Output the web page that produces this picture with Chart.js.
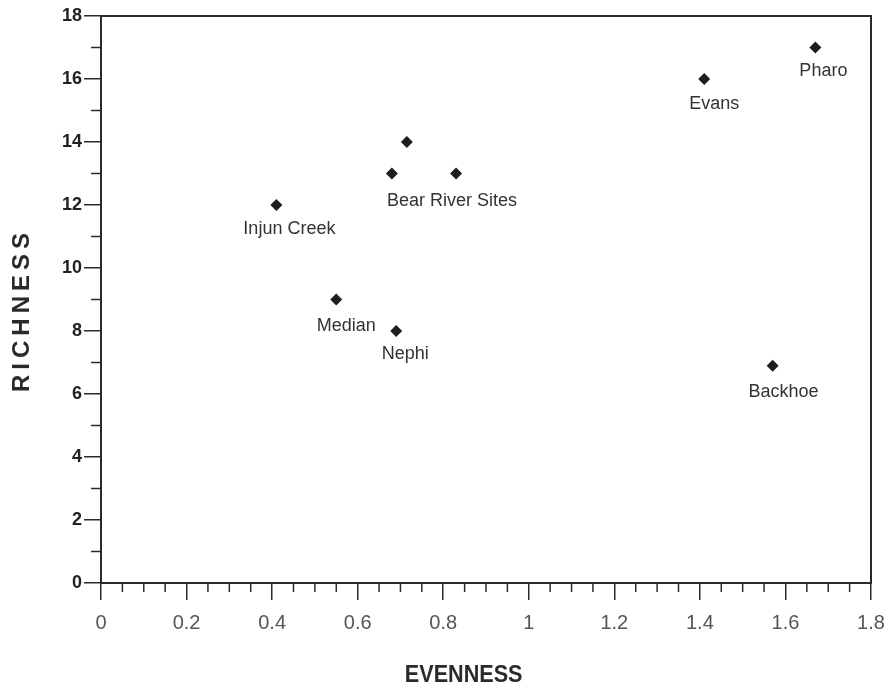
<!DOCTYPE html>
<html>
<head>
<meta charset="utf-8">
<script src="https://cdn.jsdelivr.net/npm/chart.js@4.4.1/dist/chart.umd.min.js"></script>
<style>
  html, body { margin: 0; background: #fff; }
</style>
</head>
<body>
<canvas id="chart" width="887" height="687"></canvas>
<script>
const siteNames = ['Injun Creek', 'Median', 'Nephi', '', '', 'Bear River Sites', 'Evans', 'Pharo', 'Backhoe']
const evenness = [0.41, 0.55, 0.69, 0.68, 0.715, 0.83, 1.41, 1.67, 1.57]
const richness = [12, 9, 8, 13, 14, 13, 16, 17, 6.9]
const xTicks = [0, 0.2, 0.4, 0.6, 0.8, 1, 1.2, 1.4, 1.6, 1.8]
const yTicks = [0, 2, 4, 6, 8, 10, 12, 14, 16, 18]
const xTitle = 'EVENNESS'
const yTitle = 'RICHNESS'

const fontFamily = '"Liberation Sans", Arial, Helvetica, sans-serif'
const ink = '#2a2a2a'

// frame, minor ticks, point names and axis titles
const framePlugin = {
    id: 'frame',
    afterDraw(chart, args, opts) {
        const {ctx, chartArea: a, scales: {x, y}} = chart
        ctx.save()
        ctx.strokeStyle = ink
        ctx.lineWidth = 2
        ctx.strokeRect(a.left, a.top, a.right - a.left, a.bottom - a.top)

        ctx.lineWidth = 1.5
        ctx.beginPath()
        for (let i = 0; i < xTicks.length - 1; i++) {
            for (let k = 1; k < 4; k++) {
                const px = x.getPixelForValue(xTicks[i] + (xTicks[i + 1] - xTicks[i]) * k / 4)
                ctx.moveTo(px, a.bottom)
                ctx.lineTo(px, a.bottom + 9)
            }
        }
        for (let i = 0; i < yTicks.length - 1; i++) {
            const py = y.getPixelForValue((yTicks[i] + yTicks[i + 1]) / 2)
            ctx.moveTo(a.left - 10, py)
            ctx.lineTo(a.left, py)
        }
        ctx.stroke()

        ctx.fillStyle = '#333'
        ctx.font = '18px ' + fontFamily
        ctx.textAlign = 'center'
        ctx.textBaseline = 'alphabetic'
        siteNames.forEach((name, i) => {
            if (!name) return
            const n = opts.nudge[i]
            ctx.fillText(name, x.getPixelForValue(evenness[i]) + n[0], y.getPixelForValue(richness[i]) + n[1])
        })

        ctx.fillStyle = ink
        ctx.font = 'bold 24px ' + fontFamily
        ctx.save()
        ctx.translate(a.left + (a.right - a.left) * 0.471, a.bottom + 99)
        ctx.scale(0.9, 1)
        ctx.fillText(xTitle, 0, 0)
        ctx.restore()

        ctx.save()
        ctx.translate(22, a.top + 294)
        ctx.rotate(-Math.PI / 2)
        ctx.textBaseline = 'middle'
        ctx.letterSpacing = '5px'
        ctx.fillText(yTitle, 0, 0)
        ctx.restore()
        ctx.restore()
    }
}

new Chart(document.getElementById('chart'), {
    type: 'scatter',
    data: {
        datasets: [{
            data: evenness.map((v, i) => ({x: v, y: richness[i]})),
            pointStyle: 'rectRot',
            pointRadius: 6,
            pointHoverRadius: 6,
            backgroundColor: '#1e1e1e',
            borderColor: '#1e1e1e',
            borderWidth: 0
        }]
    },
    options: {
        responsive: false,
        animation: false,
        events: [],
        layout: {padding: {top: 16, right: 16, bottom: 0, left: 0}},
        plugins: {
            legend: {display: false},
            tooltip: {enabled: false},
            frame: {
                nudge: [[13, 29], [10, 31], [9, 28], [0, 0], [0, 0], [-4, 32], [10, 30], [8, 28], [11, 31]]
            }
        },
        scales: {
            x: {
                type: 'linear',
                min: 0,
                max: 1.8,
                afterBuildTicks: s => { s.ticks = xTicks.map(v => ({value: v})) },
                afterFit: s => { s.height = 104; s.paddingRight = 0 },
                grid: {drawOnChartArea: false, tickLength: 17, color: ink, lineWidth: 1.5},
                border: {color: ink, width: 2},
                ticks: {
                    padding: 11,
                    color: '#555',
                    maxRotation: 0,
                    autoSkip: false,
                    font: {size: 20, family: fontFamily},
                    callback: v => String(v)
                }
            },
            y: {
                type: 'linear',
                min: 0,
                max: 18,
                afterBuildTicks: s => { s.ticks = yTicks.map(v => ({value: v})) },
                afterFit: s => { s.width = 101 },
                grid: {drawOnChartArea: false, tickLength: 17, color: ink, lineWidth: 1.5},
                border: {color: ink, width: 2},
                ticks: {
                    padding: 2,
                    color: '#222',
                    font: {size: 18, weight: 'bold', family: fontFamily},
                    callback: v => String(v)
                }
            }
        }
    },
    plugins: [framePlugin]
})
</script>
</body>
</html>
